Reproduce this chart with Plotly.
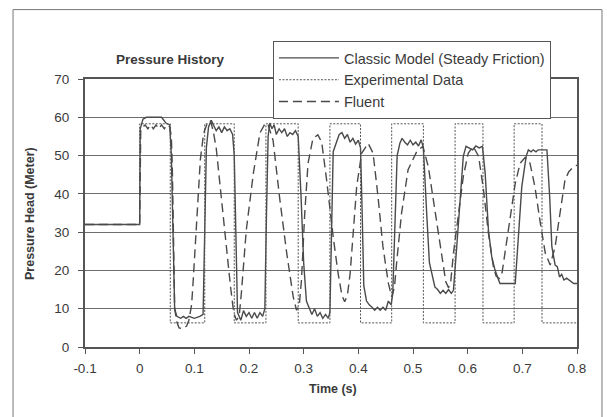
import plotly.graph_objects as go

# ---------------- data ----------------
x_ticks = [-0.1, 0, 0.1, 0.2, 0.3, 0.4, 0.5, 0.6, 0.7, 0.8]
x_tick_labels = ["-0.1", "0", "0.1", "0.2", "0.3", "0.4", "0.5", "0.6", "0.7", "0.8"]
y_ticks = [0, 10, 20, 30, 40, 50, 60, 70]

classic_t = [
    -0.1, 0.0, 0.001, 0.006, 0.012, 0.04, 0.048, 0.055,
    0.058, 0.061, 0.064, 0.068, 0.075, 0.08, 0.085, 0.09, 0.1, 0.11, 0.116,
    0.119, 0.122, 0.126, 0.131, 0.135, 0.14, 0.145, 0.15, 0.155, 0.16, 0.165, 0.17, 0.173,
    0.176, 0.179, 0.185, 0.19, 0.195, 0.2, 0.205, 0.21, 0.215, 0.22, 0.225, 0.229,
    0.232, 0.235, 0.238, 0.242, 0.246, 0.25, 0.255, 0.26, 0.265, 0.27, 0.275, 0.28, 0.285, 0.29,
    0.295, 0.3, 0.305, 0.31, 0.315, 0.32, 0.325, 0.33, 0.335, 0.34, 0.345, 0.348,
    0.351, 0.354, 0.36, 0.365, 0.37, 0.375, 0.38, 0.385, 0.39, 0.395, 0.4, 0.404,
    0.407, 0.41, 0.415, 0.42, 0.425, 0.43, 0.435, 0.44, 0.445, 0.45, 0.455, 0.46, 0.463,
    0.467, 0.471, 0.476, 0.48, 0.485, 0.49, 0.495, 0.5, 0.505, 0.51, 0.515, 0.519,
    0.525, 0.53, 0.54, 0.545, 0.55, 0.555, 0.56, 0.565, 0.57, 0.574,
    0.58, 0.586, 0.592, 0.597, 0.603, 0.609, 0.615, 0.621, 0.627,
    0.632, 0.638, 0.644, 0.65, 0.659, 0.687,
    0.693, 0.699, 0.707, 0.711, 0.716, 0.72, 0.725, 0.729, 0.745,
    0.75, 0.754, 0.76, 0.764, 0.768, 0.772, 0.776, 0.781, 0.794, 0.8,
]
classic_v = [
    32, 32, 57, 59.5, 60, 60, 58.5, 58,
    50, 28, 10, 8, 7.5, 8, 7.5, 8, 7.5, 8, 8.5,
    30, 52, 57.5, 59.2, 58, 56.5, 57.5, 56, 57.5, 56.5, 57, 55.5, 50,
    25, 9, 7, 9.5, 8, 9, 7.5, 9, 7.5, 9, 8, 10,
    35, 55, 58.5, 57, 58, 55.5, 57, 56, 57, 55, 56, 55.5, 56.5, 55,
    40, 22, 12, 10, 8.5, 10, 8, 9, 7.5, 8.5, 7.5, 9,
    35, 51, 53.5, 55.5, 56, 54.5, 55.5, 53.5, 54.5, 53, 54, 52,
    35, 16, 12, 11, 10.4, 9.6, 10.4, 9.6, 10.4, 9.6, 12, 11, 14,
    35, 50, 53.2, 54.5, 53.5, 52.8, 54, 52.8, 53.5, 52.5, 54.1, 52,
    35, 22, 15.7, 15, 14, 14.8, 14, 15, 14, 14.8,
    26.2, 39.3, 49.8, 52.4, 52, 51.5, 52.5, 52, 52.4,
    45.4, 30.5, 23.6, 20.1, 16.6, 16.6,
    30.5, 41.9, 49.8, 51.5, 51, 51.5, 51, 51.5, 51.5,
    39.3, 26.2, 21.4, 21, 18.3, 19, 17.5, 18, 16.6, 16.6,
]

exp_t = [-0.1, 0.0, 0.0, 0.056, 0.056, 0.119, 0.119, 0.173, 0.173, 0.231, 0.231,
         0.29, 0.29, 0.348, 0.348, 0.404, 0.404, 0.461, 0.461, 0.519, 0.519,
         0.577, 0.577, 0.628, 0.628, 0.685, 0.685, 0.736, 0.736, 0.8]
exp_v = [32, 32, 58.3, 58.3, 6.3, 6.3, 58.3, 58.3, 6.3, 6.3, 58.3,
         58.3, 6.3, 6.3, 58.3, 58.3, 6.3, 6.3, 58.3, 58.3, 6.3,
         6.3, 58.3, 58.3, 6.3, 6.3, 58.3, 58.3, 6.3, 6.3]

fluent_t = [
    -0.1, 0.0, 0.002, 0.01, 0.015, 0.02, 0.025, 0.03, 0.035, 0.04, 0.045, 0.05, 0.055,
    0.058, 0.06, 0.062, 0.064, 0.068, 0.072, 0.08, 0.086, 0.09, 0.095, 0.098, 0.103, 0.107, 0.111, 0.117,
    0.125, 0.13, 0.135, 0.14, 0.149, 0.159, 0.166, 0.172, 0.177, 0.182, 0.186, 0.195, 0.208, 0.22, 0.23,
    0.235, 0.244, 0.256, 0.269, 0.281, 0.287, 0.292, 0.296, 0.302, 0.308, 0.317, 0.326,
    0.333, 0.342, 0.354, 0.363, 0.37, 0.375, 0.38, 0.385, 0.391, 0.397, 0.406, 0.418,
    0.427, 0.436, 0.445, 0.455, 0.461, 0.466, 0.47, 0.479, 0.491, 0.507, 0.518,
    0.528, 0.541, 0.553, 0.56, 0.565, 0.569, 0.574, 0.583, 0.592, 0.601, 0.61,
    0.62, 0.629, 0.638, 0.647, 0.652, 0.658, 0.663, 0.668, 0.678, 0.687, 0.696, 0.705,
    0.714, 0.723, 0.733, 0.742, 0.751, 0.76, 0.769, 0.778, 0.785, 0.794, 0.8,
]
fluent_v = [
    32, 32, 57, 58, 57, 58, 57, 58, 57, 58, 57, 58, 57.5,
    55, 45, 25, 10, 6.5, 5, 4.8, 5.5, 7, 11, 17.5, 30.5, 41, 49, 55.8,
    59, 59, 56, 52, 39, 26, 16, 9, 7, 8, 14, 30.5, 45.4, 55.9, 58.5,
    58, 54, 39, 24.5, 13, 9.6, 11, 17.5, 35, 48, 54.5, 55.4,
    53.5, 43.6, 28.8, 19.2, 13.5, 11.8, 13.5, 19.2, 30.5, 41.9, 50.6, 53.2,
    50.6, 39.3, 26.2, 16.6, 13.1, 15.5, 21.9, 34.9, 46.3, 51.1, 52.4,
    47.1, 34.9, 23.6, 17, 15.5, 17, 24.5, 35, 44.5, 50.6, 52.4,
    49.8, 41, 29.7, 21, 18.5, 17.9, 19.5, 24.5, 34.1, 42.7, 48, 49.5,
    48, 41.9, 32.3, 24.5, 21.4, 26.2, 35, 43.6, 45.8, 47.1, 47.5,
]

# ---------------- figure ----------------
LINE = "#4a4a4a"
FONT = "Liberation Sans, Arial, sans-serif"

fig = go.Figure()
fig.add_trace(go.Scatter(x=classic_t, y=classic_v, mode="lines",
                         name="Classic Model (Steady Friction)",
                         line=dict(color=LINE, width=1.4)))
fig.add_trace(go.Scatter(x=exp_t, y=exp_v, mode="lines",
                         name="Experimental Data",
                         line=dict(color="#555555", width=1, dash="2px,1.5px")))
fig.add_trace(go.Scatter(x=fluent_t, y=fluent_v, mode="lines",
                         name="Fluent",
                         line=dict(color=LINE, width=1.4, dash="9px,5px")))

fig.update_layout(
    width=607, height=417,
    margin=dict(l=85, r=30, t=79, b=70),
    paper_bgcolor="white", plot_bgcolor="white",
    font=dict(family=FONT, size=13, color="#3a3a3a"),
    showlegend=True,
    legend=dict(x=0.382, y=1.142, xanchor="left", yanchor="top",
                bgcolor="white", bordercolor="#555555", borderwidth=1,
                font=dict(family=FONT, size=14.5, color="#3a3a3a"),
                itemwidth=60, tracegroupgap=0),
    xaxis=dict(range=[-0.1, 0.8], tickvals=x_ticks, ticktext=x_tick_labels,
               showgrid=False, zeroline=False, showline=True, mirror=True,
               linecolor="#555555", linewidth=2, ticks="outside", ticklen=5,
               tickcolor="#555555", tickwidth=1, ticklabelstandoff=3,
               tickfont=dict(size=13.5, color="#3a3a3a")),
    yaxis=dict(range=[0, 70], tickvals=y_ticks, showgrid=True,
               gridcolor="#6e6e6e", gridwidth=1.3, zeroline=False,
               showline=True, mirror=True, linecolor="#555555", linewidth=2,
               ticks="outside", ticklen=5, tickcolor="#555555", tickwidth=1,
               ticklabelstandoff=6, tickfont=dict(size=13.5, color="#3a3a3a")),
    shapes=[dict(type="rect", xref="paper", yref="paper",
                 x0=-0.1463, x1=1.0508, y0=-0.3, y1=1.2589,
                 line=dict(color="#777777", width=1), layer="below")],
    annotations=[
        dict(text="<b>Pressure History</b>", xref="paper", yref="paper",
             x=0.1728, y=1.0746, xanchor="center", yanchor="middle",
             showarrow=False, font=dict(size=13.5, color="#3a3a3a")),
        dict(text="<b>Pressure Head (Meter)</b>", xref="paper", yref="paper",
             x=-0.1118, y=0.5, xanchor="center", yanchor="middle", textangle=-90,
             showarrow=False, font=dict(size=12.5, color="#3a3a3a")),
        dict(text="<b>Time (s)</b>", xref="paper", yref="paper",
             x=0.504, y=-0.1567, xanchor="center", yanchor="middle",
             showarrow=False, font=dict(size=12.5, color="#3a3a3a")),
    ],
)

fig.write_html("out.html")
